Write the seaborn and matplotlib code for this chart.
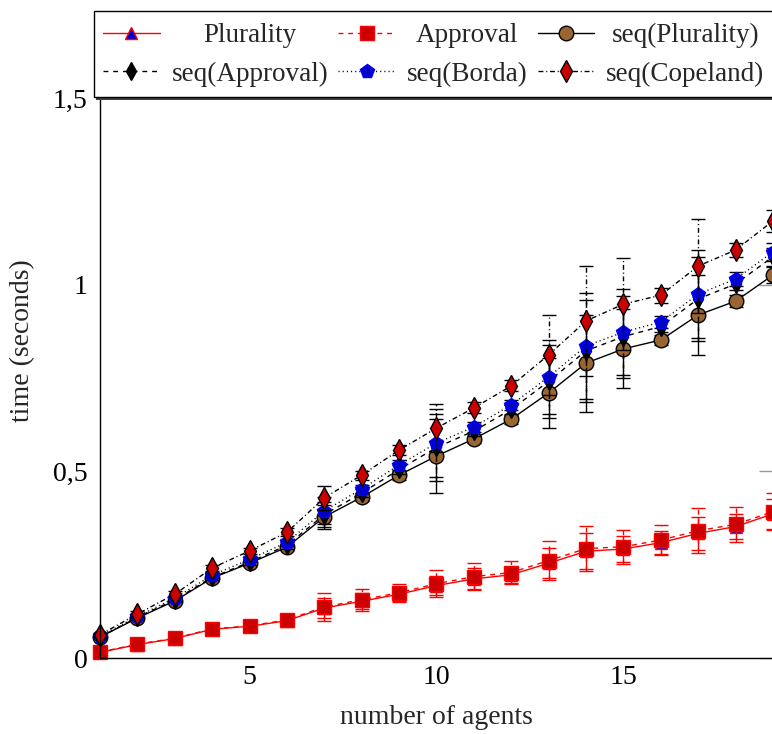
import matplotlib
matplotlib.use("Agg")
import matplotlib.pyplot as plt
from matplotlib.patches import Rectangle
import seaborn as sns

# number of agents on the x axis
agents = list(range(1, 20))

# mean run time (seconds) per voting rule
plurality = [0.015, 0.036, 0.052, 0.077, 0.085, 0.100, 0.134, 0.152, 0.171, 0.194,
             0.212, 0.223, 0.254, 0.286, 0.292, 0.309, 0.334, 0.352, 0.386]
approval = [0.016, 0.037, 0.053, 0.078, 0.086, 0.102, 0.137, 0.156, 0.175, 0.199,
            0.218, 0.229, 0.261, 0.293, 0.298, 0.316, 0.341, 0.358, 0.392]
seq_plurality = [0.056, 0.107, 0.153, 0.214, 0.254, 0.297, 0.378, 0.431, 0.490, 0.541,
                 0.587, 0.640, 0.710, 0.790, 0.828, 0.852, 0.919, 0.956, 1.026]
seq_approval = [0.056, 0.109, 0.156, 0.216, 0.257, 0.302, 0.384, 0.442, 0.505, 0.564,
                0.608, 0.666, 0.741, 0.823, 0.861, 0.888, 0.962, 1.002, 1.075]
seq_borda = [0.058, 0.112, 0.160, 0.222, 0.264, 0.310, 0.394, 0.453, 0.517, 0.576,
             0.619, 0.678, 0.753, 0.836, 0.873, 0.900, 0.975, 1.015, 1.088]
seq_copeland = [0.062, 0.118, 0.171, 0.241, 0.287, 0.337, 0.429, 0.490, 0.557, 0.616,
                0.670, 0.729, 0.812, 0.903, 0.948, 0.972, 1.050, 1.093, 1.171]

# standard deviations drawn as error bars
err_plurality = [0.004, 0.004, 0.005, 0.005, 0.006, 0.006, 0.028, 0.022, 0.018, 0.026,
                 0.028, 0.022, 0.040, 0.048, 0.036, 0.030, 0.044, 0.034, 0.040]
err_approval = [0.005, 0.005, 0.006, 0.006, 0.007, 0.007, 0.037, 0.030, 0.024, 0.036,
                0.036, 0.030, 0.052, 0.060, 0.046, 0.040, 0.060, 0.046, 0.050]
err_seq_plurality = [0.005, 0.006, 0.006, 0.007, 0.008, 0.009, 0.032, 0.010, 0.012, 0.100,
                     0.012, 0.012, 0.094, 0.130, 0.106, 0.014, 0.106, 0.016, 0.022]
err_seq_approval = [0.005, 0.006, 0.006, 0.007, 0.008, 0.009, 0.034, 0.011, 0.012, 0.090,
                    0.013, 0.013, 0.098, 0.136, 0.110, 0.015, 0.112, 0.017, 0.024]
err_seq_borda = [0.005, 0.006, 0.007, 0.008, 0.008, 0.009, 0.036, 0.011, 0.013, 0.090,
                 0.013, 0.014, 0.100, 0.142, 0.115, 0.016, 0.118, 0.018, 0.025]
err_seq_copeland = [0.006, 0.007, 0.008, 0.009, 0.009, 0.010, 0.032, 0.012, 0.014, 0.065,
                    0.015, 0.015, 0.107, 0.147, 0.123, 0.020, 0.126, 0.019, 0.030]

series_labels = ["Plurality", "Approval", "seq(Plurality)",
                 "seq(Approval)", "seq(Borda)", "seq(Copeland)"]
x_ticks = [5, 10, 15]
y_ticks = [0, 0.5, 1, 1.5]
y_tick_labels = ["0", "0,5", "1", "1,5"]
x_label = "number of agents"
y_label = "time (seconds)"

sns.set_style("white")
plt.rcParams["font.family"] = ["Liberation Serif", "DejaVu Serif"]

W, H = 772, 734
fig = plt.figure(figsize=(W / 100, H / 100), dpi=100)
ax = fig.add_axes([100 / W, 76 / H, 673 / W, 634.6 / H])

DASHED = (0, (3.5, 3.5))
DOTTED = (0, (0.8, 2.2))
DASHDOT = (0, (3.5, 2.0, 0.8, 2.0))

styles = [
    dict(color="#ff0000", ls="-", marker="^", mfc="#0000cc", mec="#ff0000", ms=9),
    dict(color="#ff0000", ls=DASHED, marker="s", mfc="#cc0000", mec="#ff0000", ms=9.5),
    dict(color="black", ls="-", marker="o", mfc="#996633", mec="black", ms=10.5),
    dict(color="black", ls=DASHED, marker="d", mfc="black", mec="black", ms=9),
    dict(color="black", ls=DOTTED, marker="p", mfc="#0000cc", mec="#0000ff", ms=10),
    dict(color="black", ls=DASHDOT, marker="d", mfc="#cc0000", mec="black", ms=11),
]
values = [plurality, approval, seq_plurality, seq_approval, seq_borda, seq_copeland]
errors = [err_plurality, err_approval, err_seq_plurality, err_seq_approval,
          err_seq_borda, err_seq_copeland]

handles = []
for vals, errs, st in zip(values, errors, styles):
    eb = ax.errorbar(agents, vals, yerr=errs, fmt="none", ecolor=st["color"],
                     elinewidth=1.0, capsize=5, capthick=1.0, clip_on=False)
    for lc in eb.lines[2]:
        lc.set_linestyle(st["ls"])
    sns.lineplot(x=agents, y=vals, ax=ax, errorbar=None, color=st["color"],
                 linewidth=1.0, marker=st["marker"], markersize=st["ms"],
                 markerfacecolor=st["mfc"], markeredgecolor=st["mec"],
                 markeredgewidth=1.0, clip_on=False)
    line = ax.lines[-1]
    line.set_linestyle(st["ls"])
    handles.append(line)

ax.set_xlim(1, 19)
ax.set_ylim(0, 1.7)
ax.set_xticks(x_ticks)
ax.set_yticks(y_ticks)
ax.set_yticklabels(y_tick_labels)
ax.tick_params(direction="in", length=10, width=1.0, color="0.6", labelsize=20,
               labelcolor="black", top=True, right=True)
ax.tick_params(axis="x", pad=5)
ax.tick_params(axis="y", pad=9)
for sp in ax.spines.values():
    sp.set_visible(True)
    sp.set_color("black")
    sp.set_linewidth(1.0)

ax.set_xlabel(x_label, fontsize=20)
ax.set_ylabel(y_label, fontsize=20)
ax.xaxis.set_label_coords(0.5, -0.074)
ax.yaxis.set_label_coords(-0.097, 0.5)

# legend frame with a drop shadow, laid over the top of the plot area
fig.add_artist(Rectangle((96 / W, 1 - 99.5 / H), (800 - 94) / W, 86 / H,
                         transform=fig.transFigure, facecolor="0.25",
                         edgecolor="none", zorder=3.9))
fig.add_artist(Rectangle((94 / W, 1 - 97 / H), (800 - 94) / W, 86 / H,
                         transform=fig.transFigure, facecolor="white",
                         edgecolor="black", linewidth=1.0, zorder=4))

order = [0, 3, 1, 4, 2, 5]
leg = fig.legend([handles[i] for i in order], [series_labels[i] for i in order],
                 ncols=3, loc="center left", bbox_to_anchor=(103 / W, 1 - 55 / H),
                 bbox_transform=fig.transFigure, frameon=False, borderpad=0,
                 borderaxespad=0, handlelength=2.1, handletextpad=0.43,
                 columnspacing=0.37, labelspacing=0.5, fontsize=19.5, numpoints=1)
leg.set_zorder(5)

# centre each label within its column
renderer = fig.canvas.get_renderer()
texts = leg.get_texts()
for c in range(3):
    pair = texts[2 * c:2 * c + 2]
    widths = [t.get_window_extent(renderer).width for t in pair]
    wmax = max(widths)
    for t, w in zip(pair, widths):
        t.set_x((wmax - w) / 2)

fig.savefig("out.png", dpi=100)
